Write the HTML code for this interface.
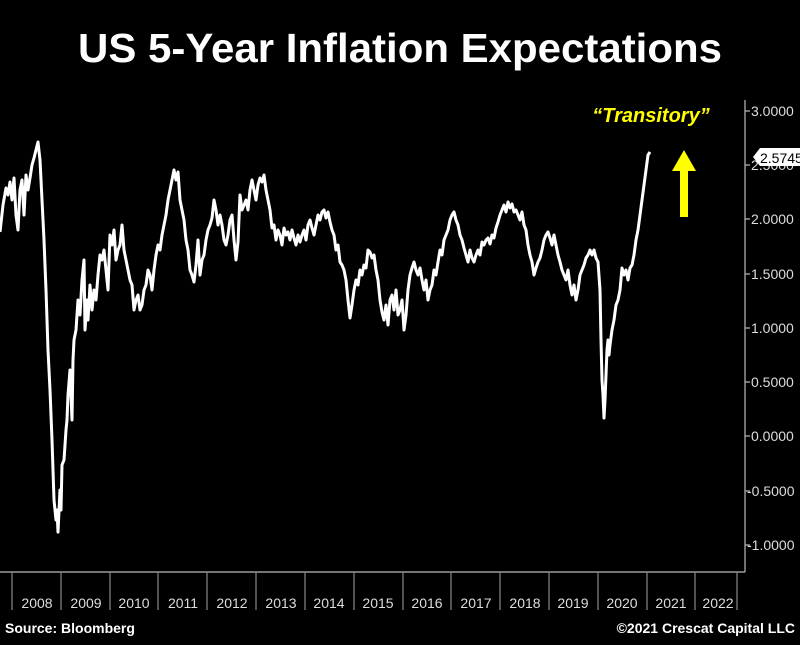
<!DOCTYPE html>
<html><head><meta charset="utf-8"><style>
html,body{margin:0;padding:0;background:#000;}
body{width:800px;height:640px;overflow:hidden;}
</style></head><body>
<svg width="800" height="640" viewBox="0 0 800 640" xmlns="http://www.w3.org/2000/svg" font-family="Liberation Sans, sans-serif">
<rect width="800" height="640" fill="#000"/>
<text x="78" y="62" fill="#fff" font-size="41" font-weight="bold" textLength="644" lengthAdjust="spacingAndGlyphs">US 5-Year Inflation Expectations</text>
<g stroke="#bbb" stroke-width="1.2" fill="none">
<line x1="745" y1="100" x2="745" y2="572"/>
<line x1="0" y1="572" x2="745" y2="572"/>
<g stroke="#888">
<line x1="12" y1="572" x2="12" y2="610"/><line x1="61" y1="572" x2="61" y2="610"/><line x1="110" y1="572" x2="110" y2="610"/><line x1="158" y1="572" x2="158" y2="610"/><line x1="207" y1="572" x2="207" y2="610"/><line x1="256" y1="572" x2="256" y2="610"/><line x1="305" y1="572" x2="305" y2="610"/><line x1="354" y1="572" x2="354" y2="610"/><line x1="403" y1="572" x2="403" y2="610"/><line x1="451" y1="572" x2="451" y2="610"/><line x1="500" y1="572" x2="500" y2="610"/><line x1="549" y1="572" x2="549" y2="610"/><line x1="598" y1="572" x2="598" y2="610"/><line x1="647" y1="572" x2="647" y2="610"/><line x1="695" y1="572" x2="695" y2="610"/><line x1="737" y1="572" x2="737" y2="610"/>
</g>
<g stroke="#bbb"><line x1="745" y1="111" x2="750" y2="111"/><line x1="745" y1="165" x2="750" y2="165"/><line x1="745" y1="219" x2="750" y2="219"/><line x1="745" y1="274" x2="750" y2="274"/><line x1="745" y1="328" x2="750" y2="328"/><line x1="745" y1="382" x2="750" y2="382"/><line x1="745" y1="436" x2="750" y2="436"/><line x1="745" y1="491" x2="750" y2="491"/><line x1="745" y1="545" x2="750" y2="545"/></g>
</g>
<g fill="#ddd" font-size="14">
<text x="751" y="116">3.0000</text><text x="751" y="170">2.5000</text><text x="751" y="224">2.0000</text><text x="751" y="279">1.5000</text><text x="751" y="333">1.0000</text><text x="751" y="387">0.5000</text><text x="751" y="441">0.0000</text><text x="747" y="496">-0.5000</text><text x="747" y="550">-1.0000</text>
</g>
<path d="M753 157 L760 148 L800 148 L800 166 L760 166 Z" fill="#fff"/>
<text x="760" y="163" fill="#000" font-size="14">2.5745</text>
<g fill="#ddd" font-size="14" text-anchor="middle">
<text x="37" y="608">2008</text><text x="86" y="608">2009</text><text x="134" y="608">2010</text><text x="183" y="608">2011</text><text x="232" y="608">2012</text><text x="281" y="608">2013</text><text x="329" y="608">2014</text><text x="378" y="608">2015</text><text x="427" y="608">2016</text><text x="476" y="608">2017</text><text x="525" y="608">2018</text><text x="573" y="608">2019</text><text x="622" y="608">2020</text><text x="671" y="608">2021</text><text x="718" y="608">2022</text>
</g>
<polyline fill="none" stroke="#fff" stroke-width="3" stroke-linejoin="round" points="0,232 3,205 6,188 8,195 10,182 12,200 14,178 16,215 18,230 20,190 22,180 24,215 26,175 28,190 30,178 32,165 34,158 36,150 38,142 40,160 42,200 44,240 46,290 48,350 50,390 52,440 54,500 56,520 57,510 58,532 60,490 61,510 62,465 64,460 66,430 67,420 68,395 70,370 72,420 73,360 74,340 76,330 78,300 80,315 82,280 84,260 85,330 87,300 88,320 90,285 92,310 94,290 96,300 98,275 100,255 102,260 104,250 106,270 108,290 110,235 112,245 114,230 116,260 118,250 120,245 122,225 124,250 126,260 128,270 130,280 132,285 134,310 136,300 138,295 140,310 142,305 144,290 146,285 148,270 150,275 152,290 154,270 156,255 158,245 160,250 162,235 164,225 166,215 168,200 170,190 172,180 174,170 176,180 178,172 180,200 182,210 184,220 186,240 188,250 190,270 192,275 194,282 196,265 198,240 200,275 202,260 204,255 206,240 208,230 210,225 212,218 214,200 216,210 218,225 220,215 222,225 224,240 226,245 228,235 230,220 232,215 234,240 236,260 238,242 240,195 242,210 244,205 246,200 248,210 250,190 252,180 254,190 256,200 258,185 260,178 262,182 264,175 266,190 268,200 270,210 272,228 274,225 276,240 278,230 280,235 282,245 284,228 286,235 288,232 290,240 292,230 294,238 296,245 298,235 300,242 302,235 304,230 306,240 308,225 310,220 312,228 314,235 316,225 318,215 320,220 322,212 324,210 326,218 328,212 330,222 332,230 334,235 336,250 338,245 340,262 342,265 344,270 346,280 348,300 350,318 352,305 354,290 356,280 358,285 360,270 362,275 364,265 366,268 368,250 370,252 372,258 374,255 376,270 378,280 380,300 382,312 384,320 386,305 388,325 390,300 392,295 394,310 396,290 398,315 400,310 402,300 404,330 406,315 408,290 410,275 412,268 414,262 416,270 418,275 420,268 422,280 424,290 426,280 428,300 430,290 432,285 434,270 436,275 438,262 440,250 442,255 444,240 446,235 448,230 450,220 452,215 454,212 456,220 458,225 460,235 462,240 464,248 466,255 468,262 470,250 472,258 474,262 476,255 478,250 480,255 482,242 484,245 486,240 488,238 490,244 492,235 494,238 496,228 498,222 500,215 502,210 504,205 506,212 508,202 510,208 512,204 514,212 516,210 518,215 520,220 522,212 524,225 526,230 528,245 530,255 532,262 534,275 536,268 538,262 540,258 542,250 544,240 546,235 548,232 550,238 552,245 554,235 556,245 558,255 560,262 562,270 564,275 566,280 568,270 570,285 572,295 574,285 576,300 578,290 580,275 582,270 584,265 586,258 588,255 590,250 592,255 594,250 596,258 598,262 600,290 601,340 602,380 603,395 604,418 605,400 606,375 607,350 608,340 609,355 610,345 612,330 614,320 616,305 618,300 620,290 622,268 624,275 626,270 628,280 630,268 632,265 634,255 636,240 638,230 640,215 642,200 644,185 646,170 648,155 650,152"/>
<text x="651" y="122" text-anchor="middle" fill="#ffff00" font-size="20" font-weight="bold" font-style="italic">“Transitory”</text>
<rect x="680" y="168" width="8" height="49" fill="#ffff00"/>
<polygon points="672,171 684,150 696,171" fill="#ffff00"/>
<text x="5" y="633" fill="#fff" font-size="14" font-weight="bold">Source: Bloomberg</text>
<text x="795" y="633" text-anchor="end" fill="#fff" font-size="14" font-weight="bold">©2021 Crescat Capital LLC</text>
</svg>
</body></html>
